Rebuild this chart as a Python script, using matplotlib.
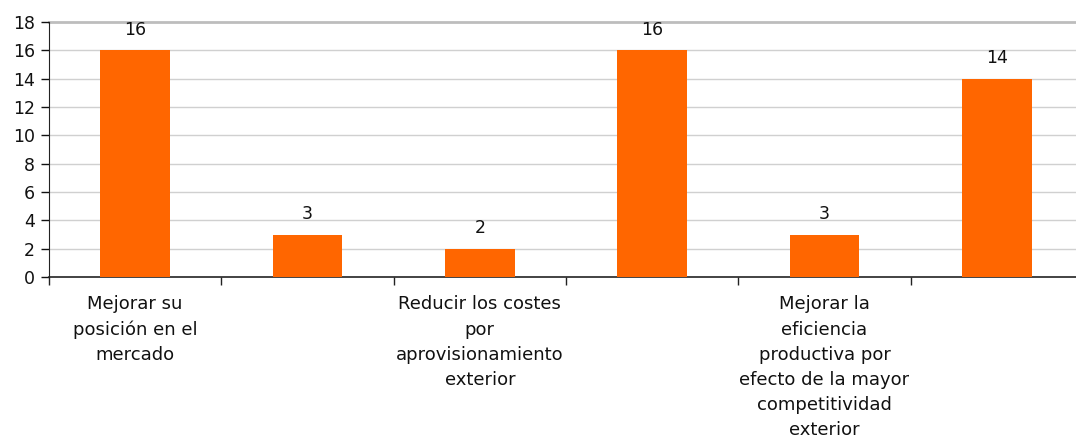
import matplotlib
matplotlib.use("Agg")
import matplotlib.pyplot as plt
import numpy as np

# values
categories = [
    "Mejorar su\nposición en el\nmercado",
    "",
    "Reducir los costes\npor\naprovisionamiento\nexterior",
    "",
    "Mejorar la\neficiencia\nproductiva por\nefecto de la mayor\ncompetitividad\nexterior",
    "",
]
values = [16, 3, 2, 16, 3, 14]
yticks = [0, 2, 4, 6, 8, 10, 12, 14, 16, 18]

bar_color = "#FF6600"
grid_color = "#d0d0d0"
fs = 12.5
fs_cat = 13

plt.rcParams['font.family'] = ['DejaVu Sans']

fig = plt.figure(figsize=(10.76, 4.40), dpi=100)
ax = fig.add_axes([49 / 1076, 1 - 277 / 440, (1083 - 49) / 1076, (277 - 22) / 440])

x = np.arange(len(values))
bars = ax.bar(x, values, width=0.406, color=bar_color, zorder=3)

for xi, v in zip(x, values):
    ax.annotate(str(v), (xi, v), xytext=(0, 8.5), textcoords='offset points',
                ha='center', va='bottom', fontsize=fs, color='#111111')

ax.set_xlim(-0.5, len(values) - 0.5)
ax.set_ylim(0, 18)
ax.set_yticks(yticks)
ax.set_yticklabels([str(t) for t in yticks], fontsize=fs)
ax.tick_params(axis='y', direction='out', length=6, width=1, pad=4, colors='#111111')

for t in yticks[1:-1]:
    ax.axhline(t, color=grid_color, lw=1, zorder=1)
ax.axhline(18, color='#bdbdbd', lw=2, zorder=1, clip_on=False)

# category boundaries carry the ticks, labels sit at the centres
ax.set_xticks(np.arange(len(values) + 1) - 0.5)
ax.set_xticklabels([])
ax.tick_params(axis='x', direction='out', length=6, width=1, colors='#222222')
for xi, lab in zip(x, categories):
    if lab:
        ax.text(xi, -1.3, lab, ha='center', va='top', fontsize=fs_cat,
                linespacing=1.51, color='#111111')

for side in ['top', 'right']:
    ax.spines[side].set_visible(False)
ax.spines['left'].set_color('#222222')
ax.spines['bottom'].set_color('#222222')
ax.spines['bottom'].set_linewidth(1.2)

fig.savefig("out.png", dpi=100)
